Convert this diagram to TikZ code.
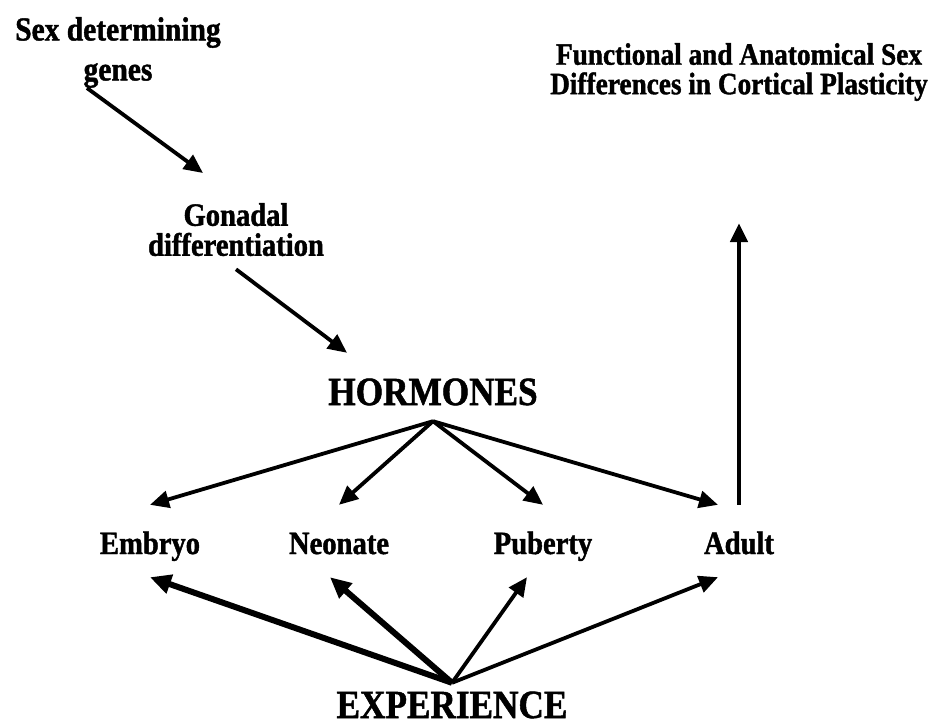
\documentclass[tikz,border=0pt]{standalone}
\usepackage{fontspec}
\setmainfont{Liberation Serif}[FakeStretch=0.88,BoldFeatures={FakeBold=1.3}]
\usetikzlibrary{arrows.meta}

\tikzset{
  arr/.style={line width=3.8pt,-{Triangle[length=19pt,width=17pt]}},
  thickarr/.style={line width=6pt,-{Triangle[length=21pt,width=19pt]}},
  stage/.style={font=\fontsize{32.5}{32.5}\selectfont\bfseries,
    inner sep=0pt,text height=49pt,text depth=23pt,anchor=base},
  big/.style={font=\fontsize{40}{40}\selectfont\bfseries,inner sep=0pt,anchor=base}
}

\begin{document}
\begin{tikzpicture}[x=1pt,y=-1pt]

\useasboundingbox (0,0) rectangle (933,725);

% Top labels
\node[font=\fontsize{33.5}{40}\selectfont\bfseries,align=center,inner sep=0pt,anchor=north]
  (sex) at (118,17) {Sex determining\\genes};
\node[font=\fontsize{32.5}{30}\selectfont\bfseries,align=center,inner xsep=0pt,inner ysep=13pt,anchor=north]
  (gonad) at (236,190) {Gonadal\\differentiation};
\node[font=\fontsize{31}{29.5}\selectfont\bfseries,align=center,inner sep=0pt,anchor=north]
  (title) at (739,43) {Functional and Anatomical Sex\\Differences in Cortical Plasticity};

% Middle and bottom
\node[big,text height=52pt,text depth=16pt] (horm) at (433,405) {HORMONES};
\node[big,text height=35pt] (exper) at (452,718) {EXPERIENCE};

% Stages
\node[stage] (embryo) at (150,554) {Embryo};
\node[stage] (neonate) at (339,554) {Neonate};
\node[stage] (puberty) at (543,554) {Puberty};
\node[stage] (adult) at (739,554) {Adult};

% Arrows down the left
\draw[arr] ([xshift=-31pt]sex.south) -- ([xshift=-33pt,yshift=17pt]gonad.north);
\draw[arr] (gonad.south) -- ([xshift=-86pt]horm.north);

% Hormones
\foreach \s in {embryo,neonate,puberty}
  \draw[arr] (horm.south) -- (\s.north);
\draw[arr] (horm.south) -- ([xshift=-21pt]adult.north);

% Experience
\draw[thickarr] (exper.north) -- (embryo.south);
\draw[thickarr] (exper.north) -- ([xshift=-9pt]neonate.south);
\draw[arr] (exper.north) -- ([xshift=-16pt]puberty.south);
\draw[arr] (exper.north) -- ([xshift=-21pt]adult.south);

% Adult to plasticity
\draw[arr,line width=4.5pt,shorten >=122pt] (adult.north) -- (title.south);

\end{tikzpicture}
\end{document}
